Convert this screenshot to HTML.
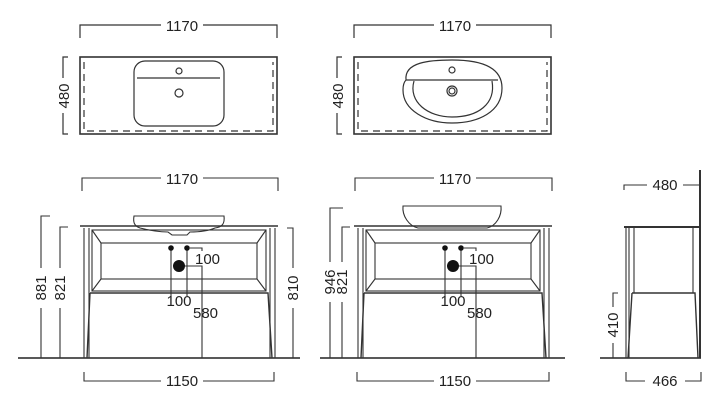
<!DOCTYPE html>
<html><head><style>
html,body{margin:0;padding:0;background:#fff;}
svg{display:block;}
text{font-family:"Liberation Sans",sans-serif;font-size:15px;fill:#222;}
</style></head><body>
<svg width="720" height="406" viewBox="0 0 720 406" xmlns="http://www.w3.org/2000/svg">
<g stroke="#333" stroke-width="1.2" fill="none">
<path d="M80 38 V25 H161 M203 25 H277 V38"/>
<path d="M68 57 H63 V78 M63 113 V134 H68"/>
<rect x="80" y="57" width="197" height="77" stroke-width="1.6"/>
<path d="M84 62 V131 H273 V62" stroke-dasharray="7,5"/>
<rect x="134" y="61" width="90" height="65" rx="11"/>
<path d="M137 78 H220"/>
<circle cx="179" cy="71" r="3"/>
<circle cx="179" cy="93" r="4"/>
<path d="M354 38 V25 H434 M476 25 H551 V38"/>
<path d="M342 57 H337 V78 M337 113 V134 H342"/>
<rect x="354" y="57" width="197" height="77" stroke-width="1.6"/>
<path d="M358 62 V131 H547 V62" stroke-dasharray="7,5"/>
<path d="M406 80 C404 62 430 60 452 60 C474 60 502 64 502 88 C502 112 478 123 452 123 C426 123 403 110 403 90 C403 86 404 82 406 80 Z"/>
<path d="M406 80 H498"/>
<path d="M414 81 C408 102 428 117 452 117 C478 117 496 104 492 81"/>
<circle cx="452" cy="70" r="3"/>
<circle cx="452" cy="91" r="5"/>
<circle cx="452" cy="91" r="3"/>
</g>
<g>
<text x="182" y="31" text-anchor="middle">1170</text>
<text x="455" y="31" text-anchor="middle">1170</text>
<text transform="translate(69,96) rotate(-90)" text-anchor="middle">480</text>
<text transform="translate(343,96) rotate(-90)" text-anchor="middle">480</text>
</g>

<g stroke="#222" stroke-width="1.4">
<path d="M18 358 H300"/>
<path d="M320 358 H565"/>
<path d="M600 358 H701"/>
</g>

<g stroke="#333" stroke-width="1.1" fill="none">
<path d="M82 191 V178 H161 M203 178 H278 V191"/>
<path d="M84 372 V381 H161 M203 381 H274 V372"/>
<path d="M50 216 H41 V268 M41 308 V358"/>
<path d="M68 227 H60 V268 M60 308 V358"/>
<path d="M287 228 H293 V268 M293 308 V358"/>
<path d="M134 216 H224 C225 224 222 227 215 228 C208 231 198 232 190 232 L187 235 H172 L168 232 C158 232 148 230 140 228 C134 226 133 222 134 216 Z" fill="#fff"/>
</g>
<g stroke="#333" stroke-width="1.1" fill="none">
<path d="M80 226 H278" stroke-width="1.6"/>
<path d="M84 228 V358 M89 228 V358 M270 228 V358 M275 228 V358"/>
<rect x="92" y="230" width="174" height="61"/>
<rect x="101" y="243" width="156" height="36"/>
<path d="M92 230 L101 243 M266 230 L257 243 M92 291 L101 279 M266 291 L257 279"/>
<path d="M90 293 H268 L272 358 M90 293 L87 358" stroke-width="1.4"/>
<path d="M171 248 V296 M187 248 V296 M190 248 H202 V251 M185 266 H202 V358"/>
</g>
<g fill="#111">
<circle cx="171" cy="248" r="2.8"/><circle cx="187" cy="248" r="2.8"/><circle cx="179" cy="266" r="6"/>
</g>
<g>
<text x="182" y="386" text-anchor="middle">1150</text>
<text x="182" y="184" text-anchor="middle">1170</text>
<text x="195" y="264">100</text>
<text x="179" y="306" text-anchor="middle">100</text>
<text x="193" y="318">580</text>
<text transform="translate(46,288) rotate(-90)" text-anchor="middle">881</text>
<text transform="translate(65,288) rotate(-90)" text-anchor="middle">821</text>
<text transform="translate(298,288) rotate(-90)" text-anchor="middle">810</text>
</g>

<g stroke="#333" stroke-width="1.1" fill="none">
<path d="M355 191 V178 H434 M476 178 H552 V191"/>
<path d="M357 372 V381 H434 M476 381 H549 V372"/>
<path d="M343 208 H330 V262 M330 302 V358"/>
<path d="M350 227 H342 V262 M342 302 V358"/>
<path d="M403 206 H501 C502 216 496 226 487 228 H418 C409 226 402 216 403 206 Z"/>
</g>
<g transform="translate(274,0)" stroke="#333" stroke-width="1.1" fill="none">
<path d="M80 226 H278" stroke-width="1.6"/>
<path d="M84 228 V358 M89 228 V358 M270 228 V358 M275 228 V358"/>
<rect x="92" y="230" width="174" height="61"/>
<rect x="101" y="243" width="156" height="36"/>
<path d="M92 230 L101 243 M266 230 L257 243 M92 291 L101 279 M266 291 L257 279"/>
<path d="M90 293 H268 L272 358 M90 293 L87 358" stroke-width="1.4"/>
<path d="M171 248 V296 M187 248 V296 M190 248 H202 V251 M185 266 H202 V358"/>
</g>
<g transform="translate(274,0)" fill="#111">
<circle cx="171" cy="248" r="2.8"/><circle cx="187" cy="248" r="2.8"/><circle cx="179" cy="266" r="6"/>
</g>
<g>
<text x="455" y="386" text-anchor="middle">1150</text>
<text x="455" y="184" text-anchor="middle">1170</text>
<text x="469" y="264">100</text>
<text x="453" y="306" text-anchor="middle">100</text>
<text x="467" y="318">580</text>
<text transform="translate(335,282) rotate(-90)" text-anchor="middle">946</text>
<text transform="translate(347,282) rotate(-90)" text-anchor="middle">821</text>
</g>

<g stroke="#333" stroke-width="1.1" fill="none">
<path d="M624 190 V185 H647 M683 185 H700"/>
<path d="M700 170 V358" stroke-width="2"/>
<path d="M624 227 H700" stroke-width="2"/>
<path d="M626 228 V358 M629 228 V358 M634 228 V293 M693 228 V293"/>
<path d="M632 293 H695 L698 358 M632 293 L628 358" stroke-width="1.4"/>
<path d="M618 293 H613 V307 M613 343 V358"/>
<path d="M626 372 V381 H645 M685 381 H701 V372"/>
</g>
<g>
<text x="665" y="190" text-anchor="middle">480</text>
<text x="665" y="386" text-anchor="middle">466</text>
<text transform="translate(618,325) rotate(-90)" text-anchor="middle">410</text>
</g>
</svg>
</body></html>
